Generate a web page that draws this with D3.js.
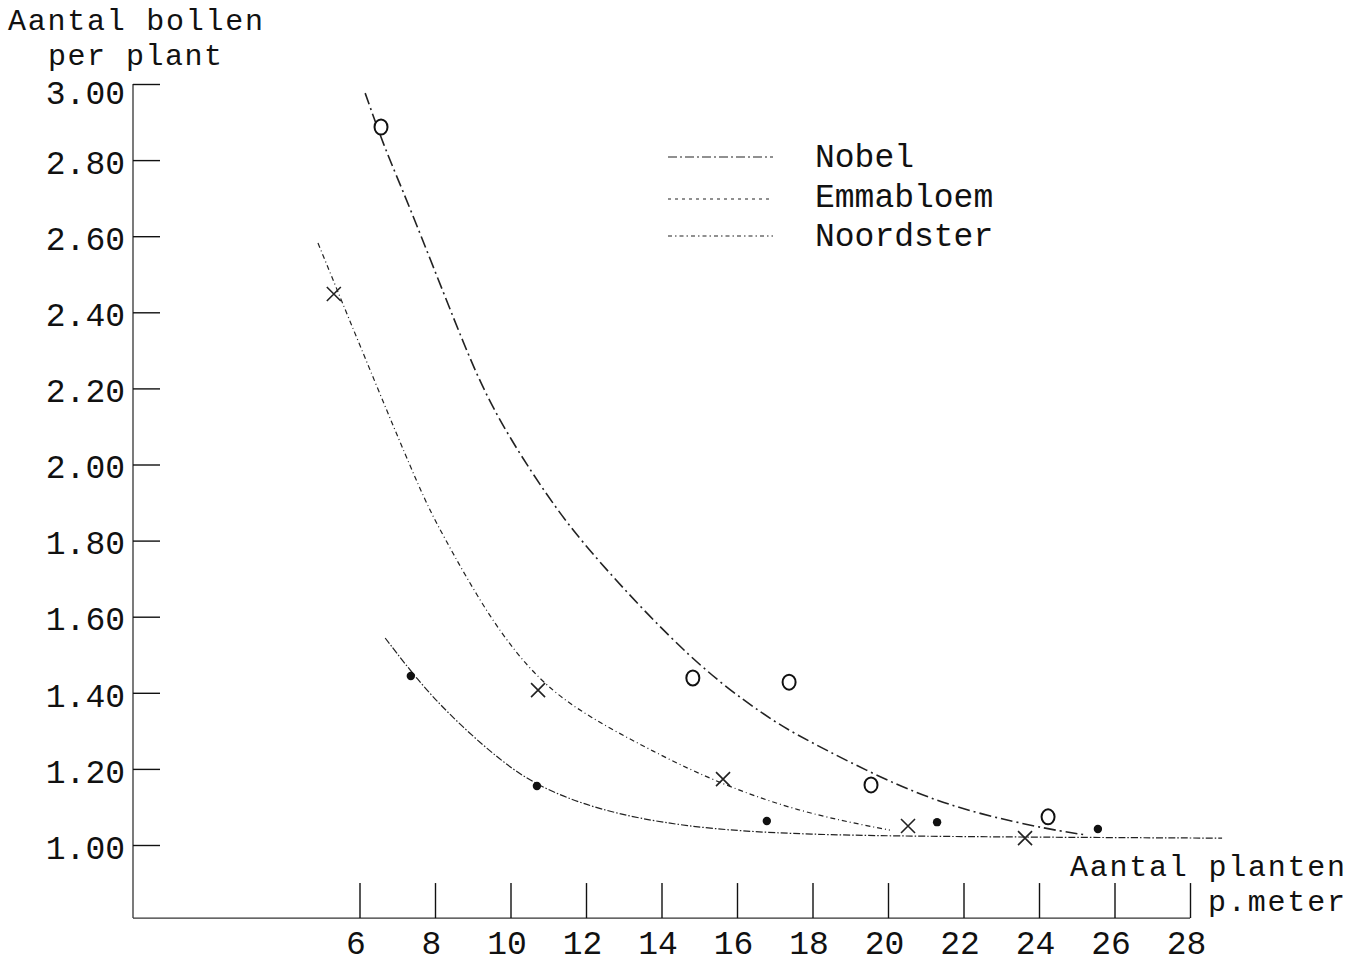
<!DOCTYPE html>
<html>
<head>
<meta charset="utf-8">
<script src="https://cdn.jsdelivr.net/npm/d3@7"></script>
<style>
  body { margin: 0; background: #fff; }
  text { font-family: "Liberation Mono", "DejaVu Sans Mono", monospace; fill: #111; }
</style>
</head>
<body>
<div id="chart"></div>
<script>
// y ticks and x ticks as typed on the sheet
const yTicks = [1.0, 1.2, 1.4, 1.6, 1.8, 2.0, 2.2, 2.4, 2.6, 2.8, 3.0];
const xTicks = [6, 8, 10, 12, 14, 16, 18, 20, 22, 24, 26, 28];

const seriesNames = ["Nobel", "Emmabloem", "Noordster"];

// measured points
const nobelPts = [[6.57, 2.887], [14.83, 1.439], [17.38, 1.428], [19.55, 1.158], [24.24, 1.074]];
const emmaPts = [[5.32, 2.448], [10.73, 1.407], [15.63, 1.173], [20.53, 1.05], [23.63, 1.018]];
const noordPts = [[7.36, 1.444], [10.70, 1.155], [16.79, 1.063], [21.30, 1.06], [25.56, 1.042]];

// hand drawn curves
const nobelCurve = [[6.15, 2.976], [6.68, 2.827], [7.26, 2.695], [8.58, 2.361], [9.46, 2.150],
  [10.97, 1.915], [12.11, 1.767], [14.83, 1.478], [16.79, 1.336], [17.67, 1.284],
  [20.32, 1.150], [22.25, 1.084], [24.37, 1.039], [25.27, 1.026]];
const emmaCurve = [[4.90, 2.582], [6.46, 2.204], [7.68, 1.915], [8.13, 1.828], [9.46, 1.591],
  [10.78, 1.426], [12.11, 1.334], [13.70, 1.250], [15.28, 1.172], [17.59, 1.087], [20.05, 1.039]];
const noordCurve = [[6.68, 1.544], [7.68, 1.415], [8.66, 1.316], [9.72, 1.223], [10.70, 1.155],
  [12.29, 1.092], [14.57, 1.047], [17.59, 1.026], [22.97, 1.021], [28.85, 1.018]];

const svg = d3.select("#chart").append("svg")
  .attr("width", 1366)
  .attr("height", 963);

const x = d3.scaleLinear().domain([0, 28]).range([133, 1190]);
const y = d3.scaleLinear().domain([1, 3]).range([845, 84]);
const baseY = y(0.808);

const fs = 33;
const fsTitle = 30;

// titles (two lines each, typed close together)
svg.append("text").attr("x", 8).attr("y", 30).style("font-size", fsTitle + "px")
  .attr("textLength", 255).attr("lengthAdjust", "spacing").text("Aantal bollen");
svg.append("text").attr("x", 48).attr("y", 65).style("font-size", fsTitle + "px")
  .attr("textLength", 174).attr("lengthAdjust", "spacing").text("per plant");

svg.append("text").attr("x", 1070).attr("y", 876).style("font-size", fsTitle + "px")
  .attr("textLength", 275).attr("lengthAdjust", "spacing").text("Aantal planten");
svg.append("text").attr("x", 1208).attr("y", 911).style("font-size", fsTitle + "px")
  .attr("textLength", 137).attr("lengthAdjust", "spacing").text("p.meter");

// axes lines
svg.append("line")
  .attr("x1", x(0)).attr("x2", x(0))
  .attr("y1", y(3)).attr("y2", baseY)
  .attr("stroke", "#333").attr("stroke-width", 1.3);
svg.append("line")
  .attr("x1", x(0)).attr("x2", x(28))
  .attr("y1", baseY).attr("y2", baseY)
  .attr("stroke", "#333").attr("stroke-width", 1.3);

const yAxis = svg.append("g")
  .attr("transform", `translate(${x(0)},0)`)
  .call(d3.axisLeft(y).tickValues(yTicks).tickSizeInner(-27).tickSizeOuter(0).tickPadding(8)
    .tickFormat(d3.format(".2f")));
yAxis.select(".domain").remove();
yAxis.selectAll("line").attr("stroke", "#111").attr("stroke-width", 1.4);
yAxis.selectAll("text")
  .style("font-size", fs + "px")
  .style("font-family", '"Liberation Mono", monospace')
  .attr("fill", "#111")
  .attr("dy", (d) => d === 3 ? "0.6em" : "0.4em");

const xAxis = svg.append("g")
  .attr("transform", `translate(0,${baseY})`)
  .call(d3.axisBottom(x).tickValues(xTicks).tickSizeInner(-35).tickSizeOuter(0).tickPadding(13));
xAxis.select(".domain").remove();
xAxis.selectAll("line").attr("stroke", "#111").attr("stroke-width", 1.4);
xAxis.selectAll("text")
  .style("font-size", fs + "px")
  .style("font-family", '"Liberation Mono", monospace')
  .attr("fill", "#111")
  .attr("dx", -4);

// curves
const line = d3.line()
  .x(d => x(d[0]))
  .y(d => y(d[1]))
  .curve(d3.curveBasis);

const dashes = ["12,4,2,4", "5,3,1,3", "7,2,1.5,2"];
const curves = [nobelCurve, emmaCurve, noordCurve];

curves.forEach((c, i) => {
  svg.append("path")
    .datum(c)
    .attr("d", line)
    .attr("fill", "none")
    .attr("stroke", "#222")
    .attr("stroke-width", i === 0 ? 1.6 : 1.2)
    .attr("stroke-dasharray", dashes[i]);
});

// markers
svg.selectAll(".nobel")
  .data(nobelPts)
  .enter().append("ellipse")
  .attr("cx", d => x(d[0]))
  .attr("cy", d => y(d[1]))
  .attr("rx", 6.5)
  .attr("ry", 7.5)
  .attr("fill", "#fff")
  .attr("stroke", "#111")
  .attr("stroke-width", 2);

const cross = svg.selectAll(".emma")
  .data(emmaPts)
  .enter().append("g")
  .attr("transform", d => `translate(${x(d[0])},${y(d[1])})`);
cross.append("path")
  .attr("d", "M-7,-7L7,7M-7,7L7,-7")
  .attr("stroke", "#222")
  .attr("stroke-width", 1.6);

svg.selectAll(".noord")
  .data(noordPts)
  .enter().append("circle")
  .attr("cx", d => x(d[0]))
  .attr("cy", d => y(d[1]))
  .attr("r", 4.2)
  .attr("fill", "#111");

// legend
const legendY = [157, 199, 236];
const legendTextY = [167, 207, 246];
seriesNames.forEach((name, i) => {
  svg.append("line")
    .attr("x1", 668).attr("x2", 773)
    .attr("y1", legendY[i]).attr("y2", legendY[i])
    .attr("stroke", "#222")
    .attr("stroke-width", 1.2)
    .attr("stroke-dasharray", ["9,3,2,3", "3,4", "4,3,1.5,3"][i]);
  svg.append("text")
    .attr("x", 815).attr("y", legendTextY[i])
    .style("font-size", fs + "px")
    .text(name);
});
</script>
</body>
</html>
